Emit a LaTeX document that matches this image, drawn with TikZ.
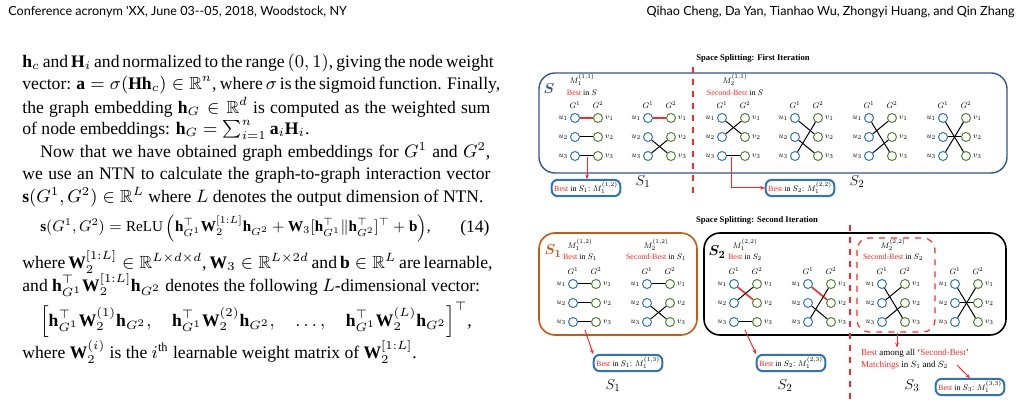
\documentclass[tikz,border=0pt]{standalone}
\usepackage{amsmath,amssymb}
\usepackage{fontspec}
\setmainfont{Liberation Serif}
\newfontfamily\headfont{Lato}
\usepackage{tikz}
\usetikzlibrary{arrows.meta,positioning}
\definecolor{boxblue}{RGB}{47,85,151}
\definecolor{ublue}{RGB}{46,117,182}
\definecolor{vgreen}{RGB}{84,130,53}
\definecolor{boxorange}{RGB}{197,90,17}
\definecolor{bestred}{RGB}{255,40,40}
\tikzset{
  body/.style={anchor=west,inner sep=0pt,font=\fontsize{8.8}{11}\selectfont},
  lbl/.style={inner sep=1pt,font=\fontsize{8}{9}\selectfont,scale=0.5,transform shape},
  ttl/.style={inner sep=0pt,font=\fontsize{8.6}{10}\selectfont\bfseries,scale=0.5,transform shape},
  unode/.style={circle,draw=ublue,line width=0.5pt,minimum size=4.5pt,inner sep=0pt},
  vnode/.style={circle,draw=vgreen,line width=0.5pt,minimum size=4.5pt,inner sep=0pt},
  blk/.style={black,line width=0.5pt},
  redl/.style={bestred,line width=0.8pt},
  bbox/.style={draw=ublue,line width=1pt,rounded corners=3pt,inner sep=2.5pt,font=\fontsize{8}{9}\selectfont,scale=0.5,transform shape},
  splitline/.style={bestred,dashed,line width=0.6pt},
  redarrow/.style={bestred,line width=0.5pt,-{Stealth[length=2.5pt]}},
  bigS/.style={inner sep=0pt,font=\fontsize{15}{15}\selectfont,scale=0.5,transform shape}
}
\newcommand{\best}{\textcolor{bestred}{Best}}
\newcommand{\secbest}{\textcolor{bestred}{Second-Best}}
% one matching: name, x of u-column, y of first row, edges
\newcommand{\matchgroup}[4]{%
  \foreach \r/\yy in {1/0,2/19,3/38} {
    \node[unode] (#1u\r) at (#2,#3+\yy) {};
    \node[vnode] (#1v\r) at (#2+23,#3+\yy) {};
    \node[lbl,left=0.5pt of #1u\r] {$u_\r$};
    \node[lbl,right=0.5pt of #1v\r] {$v_\r$};
  }
  \node[lbl] at (#2,#3-13) {$G^1$};
  \node[lbl] at (#2+23,#3-13) {$G^2$};
  \foreach \a/\b/\c in {#4} \draw[\c] (#1u\a) -- (#1v\b);
}
\begin{document}
\begin{tikzpicture}[x=0.5pt,y=-0.5pt]
\useasboundingbox (0,0) rectangle (1023,406);
% running head
\node[anchor=west,inner sep=0pt,font=\headfont\fontsize{6.3}{7}\selectfont] (headl) at (8,12) {Conference acronym 'XX, June 03--05, 2018, Woodstock, NY};
\node[anchor=east,inner sep=0pt,font=\headfont\fontsize{6.3}{7}\selectfont] (headr) at (1015,12) {Qihao Cheng, Da Yan, Tianhao Wu, Zhongyi Huang, and Qin Zhang};
% left column
\node[body] (l1) at (22,63) {\makebox[234pt][s]{$\mathbf{h}_c$ and $\mathbf{H}_i$ and normalized to the range $(0,1)$, giving the node weight}};
\node[body] (l2) at (22,85) {\makebox[234pt][s]{vector: $\mathbf{a}=\sigma(\mathbf{H}\mathbf{h}_c)\in\mathbb{R}^n$, where $\sigma$ is the sigmoid function. Finally,}};
\node[body] (l3) at (22,107) {\makebox[234pt][s]{the graph embedding $\mathbf{h}_G\in\mathbb{R}^d$ is computed as the weighted sum}};
\node[body] (l4) at (22,130) {of node embeddings: $\mathbf{h}_G=\sum_{i=1}^{n}\mathbf{a}_i\mathbf{H}_i$.};
\node[body] (l5) at (22,152) {\makebox[234pt][s]{\hspace*{9pt}Now that we have obtained graph embeddings for $G^1$ and $G^2$,}};
\node[body] (l6) at (22,175) {\makebox[234pt][s]{we use an NTN to calculate the graph-to-graph interaction vector}};
\node[body] (l7) at (22,197) {$\mathbf{s}(G^1,G^2)\in\mathbb{R}^L$ where $L$ denotes the output dimension of NTN.};
\node[body,anchor=west,scale=0.86,transform shape] (eq1) at (40,228) {$\mathbf{s}(G^1,G^2)=\mathrm{ReLU}\left(\mathbf{h}_{G^1}^{\top}\mathbf{W}_2^{[1:L]}\mathbf{h}_{G^2}+\mathbf{W}_3[\mathbf{h}_{G^1}^{\top}\|\mathbf{h}_{G^2}^{\top}]^{\top}+\mathbf{b}\right)$,};
\node[body,anchor=east] (eq1n) at (490,228) {(14)};
\node[body] (l8) at (22,262) {\makebox[234pt][s]{where $\mathbf{W}_2^{[1:L]}\in\mathbb{R}^{L\times d\times d}$, $\mathbf{W}_3\in\mathbb{R}^{L\times 2d}$ and $\mathbf{b}\in\mathbb{R}^L$ are learnable,}};
\node[body] (l9) at (22,285) {and $\mathbf{h}_{G^1}^{\top}\mathbf{W}_2^{[1:L]}\mathbf{h}_{G^2}$ denotes the following $L$-dimensional vector:};
\node[body,anchor=center] (eq2) at (256,320) {$\left[\mathbf{h}_{G^1}^{\top}\mathbf{W}_2^{(1)}\mathbf{h}_{G^2},\quad \mathbf{h}_{G^1}^{\top}\mathbf{W}_2^{(2)}\mathbf{h}_{G^2},\quad \ldots,\quad \mathbf{h}_{G^1}^{\top}\mathbf{W}_2^{(L)}\mathbf{h}_{G^2}\right]^{\top}$,};
\node[body] (l10) at (22,352) {where $\mathbf{W}_2^{(i)}$ is the $i^{\text{th}}$ learnable weight matrix of $\mathbf{W}_2^{[1:L]}$.};

% ---- first iteration
\node[ttl] (title1) at (753,58) {Space Splitting: First Iteration};
\draw[boxblue,line width=0.7pt,rounded corners=8pt] (539,73) rectangle (1007,173);
\node[bigS,text=boxblue] (sS) at (549,89) {$\boldsymbol{S}$};
\draw[splitline] (693,67) -- (693,195);
\node[lbl] (m11) at (582,80) {$M_1^{(1,1)}$};
\node[lbl] (b11) at (582,93) {\best{} in $S$};
\node[lbl] (m21) at (735,80) {$M_2^{(1,1)}$};
\node[lbl] (b21) at (735,93) {\secbest{} in $S$};
\matchgroup{a}{575}{118}{1/1/redl,2/2/blk,3/3/blk}
\matchgroup{b}{648}{118}{1/1/redl,2/3/blk,3/2/blk}
\matchgroup{c}{722}{118}{1/2/blk,2/1/blk,3/3/blk}
\matchgroup{d}{795}{118}{1/2/blk,2/3/blk,3/1/blk}
\matchgroup{e}{869}{118}{1/3/blk,2/1/blk,3/2/blk}
\matchgroup{f}{943}{118}{1/3/blk,2/2/blk,3/1/blk}
\node[bbox] (r1) at (586,188) {\best{} in $S_1$: $M_1^{(1,2)}$};
\node[bbox] (r2) at (800,188) {\best{} in $S_2$: $M_1^{(2,2)}$};
\coordinate (p1) at (587,157);
\coordinate (p2) at (731,157);
\draw[redarrow] (p1) -- (r1.north -| p1);
\draw[redarrow] (p2) |- (r2.west);
\node[bigS] (s1a) at (643,182) {$S_1$};
\node[bigS] (s2a) at (857,182) {$S_2$};

% ---- second iteration
\node[ttl] (title2) at (757,220) {Space Splitting: Second Iteration};
\draw[boxorange,line width=0.8pt,rounded corners=8pt] (539,233) rectangle (697,335);
\draw[black,line width=0.8pt,rounded corners=8pt] (704,233) rectangle (1006,335);
\node[bigS,text=boxorange] (sS1) at (553,251) {$\boldsymbol{S_1}$};
\node[bigS] (sS2) at (717,252) {$\boldsymbol{S_2}$};
\draw[splitline] (850,225) -- (850,400);
\draw[splitline,rounded corners=6pt] (857,238) rectangle (935,332);
\node[lbl] (m12) at (580,245) {$M_1^{(1,2)}$};
\node[lbl] (b12) at (580,257) {\best{} in $S_1$};
\node[lbl] (m22) at (656,245) {$M_2^{(1,2)}$};
\node[lbl] (b22) at (656,257) {\secbest{} in $S_1$};
\node[lbl] (m13) at (745,245) {$M_1^{(2,2)}$};
\node[lbl] (b13) at (745,257) {\best{} in $S_2$};
\node[lbl] (m23) at (893,245) {$M_2^{(2,2)}$};
\node[lbl] (b23) at (893,257) {\secbest{} in $S_2$};
\matchgroup{g}{573}{284}{1/1/blk,2/2/blk,3/3/blk}
\matchgroup{h}{647}{284}{1/1/blk,2/3/blk,3/2/blk}
\matchgroup{i}{734}{284}{1/2/redl,2/1/blk,3/3/blk}
\matchgroup{j}{808}{284}{1/2/redl,2/3/blk,3/1/blk}
\matchgroup{k}{882}{284}{1/3/blk,2/1/blk,3/2/blk}
\matchgroup{l}{955}{284}{1/3/blk,2/2/blk,3/1/blk}
\node[bbox] (r3) at (628,363) {\best{} in $S_1$: $M_1^{(1,3)}$};
\node[bbox] (r4) at (791,363) {\best{} in $S_2$: $M_1^{(2,3)}$};
\node[bbox] (r5) at (970,387) {\best{} in $S_3$: $M_1^{(3,3)}$};
\node[lbl,align=left,font=\fontsize{9}{12}\selectfont] (amg) at (915,359) {\best{} among all `\secbest'\\\textcolor{bestred}{Matchings} in $S_1$ and $S_2$};
\coordinate (p3) at (585,330);
\coordinate (p4) at (745,330);
\coordinate (p5) at (897,333);
\coordinate (p6) at (957,365);
\draw[redarrow] (p3) -- (r3.north west);
\draw[redarrow] (p4) -- (r4.north west);
\draw[redarrow] (p5) -- (amg.north -| p5);
\draw[redarrow] (p6) -- (r5.north);
\node[bigS] (s1b) at (613,386) {$S_1$};
\node[bigS] (s2b) at (785,386) {$S_2$};
\node[bigS] (s3b) at (912,386) {$S_3$};
\end{tikzpicture}
\end{document}
